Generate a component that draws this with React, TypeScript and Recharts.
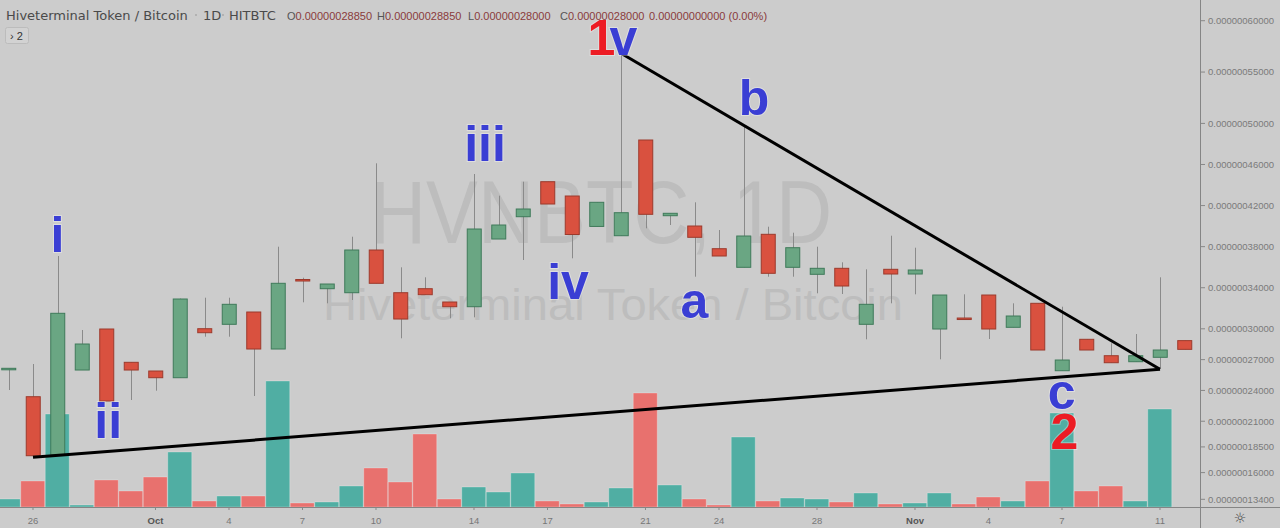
import { Bar, Cell, ComposedChart, ReferenceDot, ReferenceLine, XAxis, YAxis } from "recharts"

// prices are in units of 1e-11 BTC (60000 -> 0.00000060000)
const dates = [
    "Sep 25", "Sep 26", "Sep 27", "Sep 28", "Sep 29", "Sep 30",
    "Oct 1", "Oct 2", "Oct 3", "Oct 4", "Oct 5", "Oct 6", "Oct 7", "Oct 8", "Oct 9", "Oct 10",
    "Oct 11", "Oct 12", "Oct 13", "Oct 14", "Oct 15", "Oct 16", "Oct 17", "Oct 18", "Oct 19", "Oct 20",
    "Oct 21", "Oct 22", "Oct 23", "Oct 24", "Oct 25", "Oct 26", "Oct 27", "Oct 28", "Oct 29", "Oct 30", "Oct 31",
    "Nov 1", "Nov 2", "Nov 3", "Nov 4", "Nov 5", "Nov 6", "Nov 7", "Nov 8", "Nov 9", "Nov 10", "Nov 11", "Nov 12",
]
const opens = [
    26100, 23389, 17712, 25988, 29981, 26738,
    25891, 25239, 30010, 30438, 31636, 28033, 34800, 33905, 33515, 37673,
    33515, 33905, 32610, 32152, 38744, 40915, 44323, 42931, 39968, 39065,
    48384, 41013, 40010, 37800, 35988, 39202, 35988, 35307, 35891, 30438, 35794,
    35336, 29981, 31050, 33291, 30146, 32483, 25920, 28978, 27381, 26797, 27225, 28850,
]
const highs = [
    26154, 26573, 37089, 29884, 29981, 26738,
    25891, 32950, 33029, 33029, 31636, 37994, 34976, 34362, 38968, 46115,
    35988, 35015, 32610, 45073, 42960, 44323, 44323, 42931, 42318, 56884,
    48384, 41247, 42318, 39620, 49844, 39942, 39358, 37994, 36475, 35794, 39065,
    37897, 33291, 33359, 33291, 32483, 32483, 32152, 28978, 28588, 29494, 35015, 28850,
]
const lows = [
    24041, 17644, 17712, 25988, 22970, 23067,
    23973, 25239, 29231, 29231, 23457, 28033, 32581, 32483, 32804, 34431,
    29075, 33321, 31023, 31120, 38744, 36699, 42152, 36865, 39968, 39065,
    39786, 40107, 35073, 37089, 35988, 35073, 35073, 33457, 33389, 28978, 32483,
    33359, 27030, 31000, 29007, 30146, 27936, 25920, 27936, 26699, 26797, 26154, 28000,
]
const closes = [
    26154, 17644, 31510, 28520, 22970, 25988,
    25239, 32902, 29621, 32386, 28033, 34431, 34781, 34362, 37673, 34431,
    30954, 33321, 32152, 39718, 40107, 41665, 42152, 39182, 42318, 41305,
    41149, 41247, 38910, 37089, 39036, 35404, 37897, 35891, 34168, 32386, 35336,
    35726, 33291, 31000, 29981, 31247, 27936, 26962, 27936, 26699, 27381, 27936, 28000,
]
const volumes = [
    8, 26, 93, 2, 27, 16,
    30, 55, 6, 11, 11, 126, 4, 5, 21, 39,
    25, 73, 8, 20, 15, 34, 6, 3, 5, 19,
    114, 22, 8, 2, 70, 6, 9, 8, 5, 14, 3,
    4, 14, 3, 10, 6, 26, 94, 16, 21, 6, 98, 0,
]

const priceTicks = [60000, 55000, 50000, 46000, 42000, 38000, 34000, 30000, 27000, 24000, 21000, 18500, 16000, 13400]
const tickDays = [0, 5, 8, 11, 14, 18, 21, 25, 28, 32, 36, 39, 42, 46]
const tickLabels = ["26", "Oct", "4", "7", "10", "14", "17", "21", "24", "28", "Nov", "4", "7", "11"]

// wave count annotations
const waveTexts = ["i", "ii", "iii", "iv", "1", "v", "a", "b", "c", "2"]
const waveDays = [1, 3.07, 18.45, 21.84, 23.2, 24.1, 27.0, 29.43, 41.99, 42.1]
const wavePrices = [37449, 19338, 46339, 32873, 56660, 56660, 31052, 50818, 22191, 18267]
const waveColors = ["#3a3ed4", "#3a3ed4", "#3a3ed4", "#3a3ed4", "#ed1c24", "#3a3ed4", "#3a3ed4", "#3a3ed4", "#3a3ed4", "#ed1c24"]

// trend lines (day, price)
const lowerLine = [{ x: 0, y: 17488 }, { x: 46, y: 26057 }]
const upperLine = [{ x: 24, y: 56826 }, { x: 46, y: 26057 }]

const data = dates.map((date, i) => ({
    d: i - 1,
    date,
    open: opens[i],
    high: highs[i],
    low: lows[i],
    close: closes[i],
    volume: volumes[i],
}))

const X_DOMAIN: [number, number] = [-1.3469, 47.6327]
const FONT = "'Liberation Sans', Arial, sans-serif"

function Candle(props: any) {
    const { x, y, width, height, payload } = props
    const { open, close, high, low } = payload
    const top = Math.min(y, y + height)
    const span = Math.abs(height)
    const k = high > low ? span / (high - low) : 0
    const py = (v: number) => top + (high - v) * k
    const up = close >= open
    const cx = Math.round(x + width / 2) + 0.5
    const bTop = py(Math.max(open, close))
    const bH = Math.max(Math.abs(py(open) - py(close)), 1.5)
    return (
        <g>
            <line x1={cx} x2={cx} y1={top} y2={top + span} stroke="#8a8a8a" strokeWidth={1} />
            <rect
                x={x + 0.5}
                y={bTop}
                width={width - 1}
                height={bH}
                fill={up ? "#6aa683" : "#d9513f"}
                stroke={up ? "#3f7a5a" : "#9c3a2c"}
                strokeWidth={1}
            />
        </g>
    )
}

function DateTick({ x, y, payload }: any) {
    const label = tickLabels[tickDays.indexOf(payload.value)]
    const month = label === "Oct" || label === "Nov"
    return (
        <text x={x} y={y} dy="0.71em" textAnchor="middle" fontSize={9.5} fontFamily={FONT}
            fontWeight={month ? 700 : 400} fill={month ? "#555" : "#777"}>
            {label}
        </text>
    )
}

function WaveLabel({ cx, cy, text, color }: any) {
    return (
        <text x={cx} y={cy} textAnchor="middle" fontSize={50} fontWeight={700} fontFamily={FONT}
            fill={color} stroke="rgba(255,255,255,0.35)" strokeWidth={2} paintOrder="stroke">
            {text}
        </text>
    )
}

const fmt = (v: number) => (v / 1e11).toFixed(11)

export default function App() {
    return (
        <div style={{ position: "absolute", left: 0, top: 0, width: 1280, height: 528, background: "#cccccc", overflow: "hidden" }}>
            {/* watermark */}
            <svg width={1280} height={528} style={{ position: "absolute", left: 0, top: 0 }}>
                <text x={370} y={243} fontSize={89} fontFamily={FONT} fill="#bdbdbd" textLength={462} lengthAdjust="spacingAndGlyphs">
                    HVNBTC, 1D
                </text>
                <text x={323} y={320} fontSize={44} fontFamily={FONT} fill="#bdbdbd" textLength={580} lengthAdjust="spacingAndGlyphs">
                    Hiveterminal Token / Bitcoin
                </text>
            </svg>

            {/* volume */}
            <div style={{ position: "absolute", left: 0, top: 0 }}>
                <ComposedChart width={1280} height={528} data={data} margin={{ top: 0, right: 80, bottom: 21, left: 0 }}>
                    <XAxis xAxisId="v" dataKey="d" type="number" domain={X_DOMAIN} allowDataOverflow hide />
                    <YAxis yAxisId="v" domain={[0, 507]} allowDataOverflow hide />
                    <Bar xAxisId="v" yAxisId="v" dataKey="volume" barSize={24} isAnimationActive={false}
                        stroke="rgba(255,255,255,0.25)" strokeWidth={1}>
                        {data.map((e) => (
                            <Cell key={e.date} fill={e.close >= e.open ? "#50aea3" : "#e8716e"} />
                        ))}
                    </Bar>
                </ComposedChart>
            </div>

            {/* candles */}
            <div style={{ position: "absolute", left: 0, top: 0 }}>
                <ComposedChart width={1280} height={528} data={data} margin={{ top: 0, right: 0, bottom: 0, left: 0 }}>
                    <XAxis dataKey="d" type="number" domain={X_DOMAIN} allowDataOverflow ticks={tickDays} interval={0}
                        height={21} tickSize={3} tickMargin={7} axisLine={false} tickLine={{ stroke: "#888" }}
                        tick={<DateTick />} />
                    <YAxis orientation="right" width={80} domain={[12650, 62016]} allowDataOverflow ticks={priceTicks}
                        interval={0} tickFormatter={fmt} tickSize={5} tickMargin={3} axisLine={false}
                        tickLine={{ stroke: "#888" }} tick={{ fontSize: 9.5, fill: "#7a7a7a", fontFamily: FONT }} />
                    <Bar dataKey={(e: any) => [e.low, e.high]} barSize={15} isAnimationActive={false} shape={<Candle />} />
                    <ReferenceLine segment={lowerLine} stroke="#000" strokeWidth={3} />
                    <ReferenceLine segment={upperLine} stroke="#000" strokeWidth={3} />
                    {waveTexts.map((t, i) => (
                        <ReferenceDot key={t + i} x={waveDays[i]} y={wavePrices[i]} r={0}
                            shape={(p: any) => <WaveLabel {...p} text={t} color={waveColors[i]} />} />
                    ))}
                </ComposedChart>
            </div>

            {/* frame, legend */}
            <svg width={1280} height={528} style={{ position: "absolute", left: 0, top: 0, pointerEvents: "none" }}>
                <line x1={0} x2={1280} y1={507.5} y2={507.5} stroke="#858585" />
                <line x1={1200.5} x2={1200.5} y1={0} y2={528} stroke="#858585" />
                <text x={6} y={19.5} fontSize={13} fontFamily="'DejaVu Sans', sans-serif" fill="#4a4a4a">Hiveterminal Token / Bitcoin</text>
                <circle cx={196} cy={15} r={1} fill="#aaa" />
                <text x={203} y={19.5} fontSize={13} fontFamily="'DejaVu Sans', sans-serif" fill="#4a4a4a">1D</text>
                <circle cx={223} cy={15} r={1} fill="#aaa" />
                <text x={229} y={19.5} fontSize={13} fontFamily="'DejaVu Sans', sans-serif" fill="#4a4a4a">HITBTC</text>
                <text y={19.5} fontSize={11} fontFamily={FONT}>
                    <tspan x={287} fill="#555">O</tspan><tspan fill="#8a3b3b">0.00000028850</tspan>
                    <tspan x={377} fill="#555">H</tspan><tspan fill="#8a3b3b">0.00000028850</tspan>
                    <tspan x={468} fill="#555">L</tspan><tspan fill="#8a3b3b">0.00000028000</tspan>
                    <tspan x={560} fill="#555">C</tspan><tspan fill="#8a3b3b">0.00000028000</tspan>
                    <tspan x={649} fill="#8a3b3b">0.00000000000 (0.00%)</tspan>
                </text>
                <rect x={5.5} y={27.5} width={23} height={16} rx={2} fill="#d2d2d2" stroke="#bcbcbc" />
                <text x={10} y={39.5} fontSize={11} fontFamily={FONT} fill="#333">› 2</text>
                <text x={1240} y={523} textAnchor="middle" fontSize={14} fontFamily="'DejaVu Sans', sans-serif" fill="#444">☼</text>
            </svg>
        </div>
    )
}
